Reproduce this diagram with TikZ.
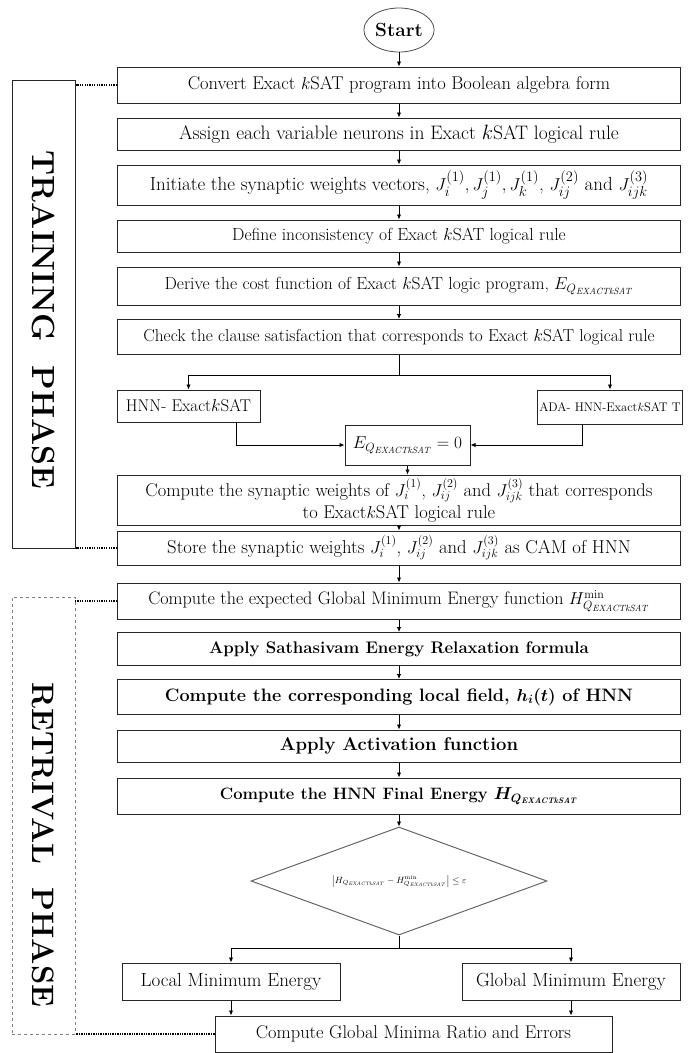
\documentclass[tikz,border=0pt]{standalone}
\usetikzlibrary{shapes.geometric,arrows.meta,calc}
\newcommand{\QX}{Q_{\mathit{EXACTkSAT}}}
\newcommand{\fs}[1]{\fontsize{#1}{#1}\selectfont}
\begin{document}
\begin{tikzpicture}[x=1pt,y=-1pt,
  box/.style={draw=black!85, line width=1pt, rectangle, minimum width=563, inner sep=2pt, align=center, font=\fs{18.5}},
  sbox/.style={draw=black!85, line width=1pt, rectangle, inner sep=2pt, align=center, font=\fs{18.5}},
  arr/.style={-{Latex[length=5pt,width=4.5pt]}, line width=0.9pt},
  ln/.style={line width=0.9pt},
  dotline/.style={line width=2.4pt, dash pattern=on 1.3pt off 1.1pt},
  phase/.style={rotate=-90, font=\fs{32}\bfseries}]
\useasboundingbox (0,0) rectangle (688,1053);
% nodes
\node[ellipse, draw=black!70, line width=0.8pt, minimum width=70, minimum height=44, inner sep=1pt, font=\fs{19}\bfseries] (start) at (399,30) {Start};
\node[box, minimum height=36] (b1) at (399,85) {Convert Exact $k$SAT program into Boolean algebra form};
\node[box, minimum height=32, font=\fs{19.5}] (b2) at (399,134) {Assign each variable neurons in Exact $k$SAT logical rule};
\node[box, minimum height=40, font=\fs{19}] (b3) at (399,185) {Initiate the synaptic weights vectors, $J_i^{(1)},J_j^{(1)},J_k^{(1)}$, $J_{ij}^{(2)}$ and $J_{ijk}^{(3)}$};
\node[box, minimum height=32, font=\fs{17.5}] (b4) at (399,236) {Define inconsistency of Exact $k$SAT logical rule};
\node[box, minimum height=38, font=\fs{17.5}] (b5) at (399,286) {Derive the cost function of Exact $k$SAT logic program, $E_{\QX}$};
\node[box, minimum height=35, font=\fs{17.3}] (b6) at (399,337) {Check the clause satisfaction that corresponds to Exact $k$SAT logical rule};
\node[sbox, minimum width=143, minimum height=32, font=\fs{17}] (hnn) at (188.5,406) {HNN- Exact$k$SAT};
\node[sbox, minimum width=140, minimum height=34, font=\fs{12.5}] (ada) at (610,407) {ADA- HNN-Exact$k$SAT T};
\node[sbox, minimum width=125, minimum height=40, font=\fs{17.5}] (eq) at (407.5,445) {$E_{\QX}=0$};
\node[box, minimum height=50, font=\fontsize{18.5}{22}\selectfont] (b7) at (399,500) {Compute the synaptic weights of $J_i^{(1)}$, $J_{ij}^{(2)}$ and $J_{ijk}^{(3)}$ that corresponds\\ to Exact$k$SAT logical rule};
\node[box, minimum height=34, font=\fs{18.7}] (b8) at (399,548) {Store the synaptic weights $J_i^{(1)}$, $J_{ij}^{(2)}$ and $J_{ijk}^{(3)}$ as CAM of HNN};
\node[box, minimum height=36, font=\fs{18.1}] (b9) at (399,601) {Compute the expected Global Minimum Energy function $H^{\min}_{\QX}$};
\node[box, minimum height=33, font=\fs{16.8}\bfseries\boldmath] (b10) at (399,649) {Apply Sathasivam Energy Relaxation formula};
\node[box, minimum height=35, font=\fs{18}\bfseries\boldmath] (b11) at (399,697) {Compute the corresponding local field, $h_i(t)$ of HNN};
\node[box, minimum height=32, font=\fs{18.5}\bfseries\boldmath] (b12) at (399,746) {Apply Activation function};
\node[box, minimum height=36, font=\fs{16.5}\bfseries\boldmath] (b13) at (399,796) {Compute the HNN Final Energy $H_{\QX}$};
\node[diamond, aspect=2.74, draw=black!60, line width=1pt, minimum width=296, minimum height=108, inner sep=0pt, font=\fs{9}] (dia) at (399,881) {$\bigl|H_{\QX}-H^{\min}_{\QX}\bigr|\le\varepsilon$};
\node[sbox, minimum width=218, minimum height=37, font=\fs{19}] (loc) at (231,981.5) {Local Minimum Energy};
\node[sbox, minimum width=218, minimum height=37, font=\fs{19}] (glob) at (571,981.5) {Global Minimum Energy};
\node[sbox, minimum width=397, minimum height=36, font=\fs{18.4}] (fin) at (413.5,1034) {Compute Global Minima Ratio and Errors};
% phase brackets
\node[draw=black!85, line width=1pt, minimum width=63, minimum height=468, inner sep=0pt] (tr) at (43.5,314) {};
\node[phase] (trt) at (43.5,320) {TRAINING\ \ PHASE};
\node[draw=black!50, dashed, line width=0.8pt, minimum width=63, minimum height=437, inner sep=0pt] (rt) at (43.5,815.5) {};
\node[phase, font=\fs{31}\bfseries] (rtt) at (43.5,845) {RETRIVAL\ \ PHASE};
\draw[dotline] (b1.west) -- (b1.west -| tr.east);
\draw[dotline] (b8.west) -- (b8.west -| tr.east);
\draw[dotline] (b9.west) -- (b9.west -| rt.east);
\draw[dotline] (fin.west) -- (fin.west -| rt.east);
% flow
\draw[arr] (start) -- (b1);
\draw[arr] (b1) -- (b2);
\draw[arr] (b2) -- (b3);
\draw[arr] (b3) -- (b4);
\draw[arr] (b4) -- (b5);
\draw[arr] (b5) -- (b6);
\coordinate (j1) at ($(b6.south)+(0,20)$);
\draw[ln] (b6.south) -- (j1);
\draw[arr] (j1) -| (hnn.north);
\draw[arr] (j1) -| (ada.north);
\draw[arr] ($(hnn.south)+(48,0)$) |- (eq.west);
\draw[arr] ($(ada.south)+(-28,0)$) |- (eq.east);
\draw[arr] (eq.south) -- (eq.south |- b7.north);
\draw[arr] (b7) -- (b8);
\draw[arr] (b8) -- (b9);
\draw[arr] (b9) -- (b10);
\draw[arr] (b10) -- (b11);
\draw[arr] (b11) -- (b12);
\draw[arr] (b12) -- (b13);
\draw[arr] (b13) -- (dia);
\coordinate (j2) at ($(dia.south)+(0,13)$);
\draw[ln] (dia.south) -- (j2);
\draw[arr] (j2) -| (loc.north);
\draw[arr] (j2) -| (glob.north);
\draw[arr] (loc.south) -- (loc.south |- fin.north);
\draw[arr] (glob.south) -- (glob.south |- fin.north);
\end{tikzpicture}
\end{document}
